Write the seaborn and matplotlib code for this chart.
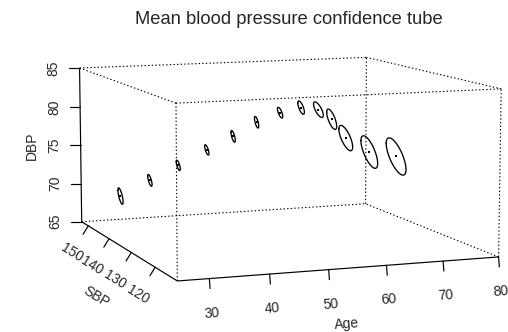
import numpy as np
import pandas as pd
import matplotlib
matplotlib.use("Agg")
import matplotlib.pyplot as plt
import seaborn as sns

# ---------------- data ----------------
ages = [20, 25, 30, 35, 40, 45, 50, 55, 60, 65, 70, 75, 80]
sbp_mean = [122.2, 122.4, 122.9, 123.2, 124.2, 126.1, 127.8, 130.2, 133.7, 138.4, 142.6, 143.3, 142.8]
dbp_mean = [73.2, 74.8, 76.3, 77.9, 79.2, 80.5, 81.3, 81.5, 80.7, 78.8, 75.7, 73.6, 72.9]
sbp_ci = [1.08, 0.88, 0.79, 0.82, 0.80, 0.77, 0.94, 1.15, 1.71, 1.76, 2.45, 2.92, 3.37]
dbp_ci = [0.85, 0.61, 0.54, 0.54, 0.63, 0.64, 0.58, 0.74, 0.85, 1.17, 1.46, 1.90, 2.18]
rho = 0.6

age_lim = (24.77, 80.0)
sbp_lim = (111.35, 153.33)
dbp_lim = (65.0, 85.0)
age_ticks = [30, 40, 50, 60, 70, 80]
sbp_ticks = [120, 130, 140, 150]
dbp_ticks = [65, 70, 75, 80, 85]
title = "Mean blood pressure confidence tube"

# ---------------- view (persp-like) ----------------
THETA, PHI = -20.6, 8.34
EXP_Y, EXP_Z = 1.014, 0.5015
DIST = 12.97
SCALE, CX, CY = 161.8, 280.7, 158.7


def proj(age, sbp, dbp):
    a = (np.asarray(age, float) - age_lim[0]) / (age_lim[1] - age_lim[0])
    s = (np.asarray(sbp, float) - sbp_lim[0]) / (sbp_lim[1] - sbp_lim[0])
    d = (np.asarray(dbp, float) - dbp_lim[0]) / (dbp_lim[1] - dbp_lim[0])
    X = 2 * a - 1
    Y = (2 * s - 1) * EXP_Y
    Z = (2 * d - 1) * EXP_Z
    x1, y1, z1 = X, Z, -Y
    t = np.radians(THETA)
    x2 = x1 * np.cos(t) - z1 * np.sin(t)
    z2 = x1 * np.sin(t) + z1 * np.cos(t)
    f = np.radians(PHI)
    y3 = y1 * np.cos(f) - z2 * np.sin(f)
    z3 = y1 * np.sin(f) + z2 * np.cos(f)
    w = (DIST - z3) / DIST
    return CX + SCALE * x2 / w, CY - SCALE * y3 / w


sns.set_style("white")
plt.rcParams["font.family"] = ["Liberation Sans", "DejaVu Sans"]
plt.rcParams["lines.scale_dashes"] = False

fig = plt.figure(figsize=(5.08, 3.32), dpi=100)
ax = fig.add_axes([0, 0, 1, 1])

A0, A1 = age_lim
S0, S1 = sbp_lim
D0, D1 = dbp_lim
corner = {
    "FBL": (A0, S0, D0), "FBR": (A1, S0, D0), "FTL": (A0, S0, D1), "FTR": (A1, S0, D1),
    "BBL": (A0, S1, D0), "BBR": (A1, S1, D0), "BTL": (A0, S1, D1), "BTR": (A1, S1, D1),
}
dotted = [("FBR", "FTR"), ("FBL", "FTL"), ("FTL", "FTR"), ("FBR", "BBR"), ("FTR", "BTR"),
          ("BBL", "BBR"), ("BTL", "BTR"), ("BBR", "BTR"), ("FTL", "BTL")]
solid = [("FBL", "FBR"), ("BBL", "FBL"), ("BBL", "BTL")]
dot_style = (0, (1.0, 1.6))
for p, q in dotted:
    xs, ys = proj(*zip(corner[p], corner[q]))
    ax.plot(xs, ys, color="black", lw=0.8, linestyle=dot_style)
for p, q in solid:
    xs, ys = proj(*zip(corner[p], corner[q]))
    ax.plot(xs, ys, color="black", lw=0.85, solid_capstyle="butt")

TXT = 10.0


def axis_decor(p_start, p_end, ticks, which, tick_len, lab_off, name, name_off, sign):
    x0, y0 = proj(*p_start)
    x1, y1 = proj(*p_end)
    ux, uy = x1 - x0, y1 - y0
    n = np.hypot(ux, uy)
    ux, uy = ux / n, uy / n
    nx, ny = sign * uy, -sign * ux
    if ny < 0 and abs(ny) > 0.3:
        nx, ny = -nx, -ny
    ang = np.degrees(np.arctan2(-uy, ux))
    if ang > 90:
        ang -= 180
    if ang < -90:
        ang += 180
    for tv in ticks:
        pt = list(p_start)
        pt[which] = tv
        px, py = proj(*pt)
        ax.plot([px, px + nx * tick_len], [py, py + ny * tick_len], color="black", lw=0.85)
        ax.text(px + nx * lab_off, py + ny * lab_off, str(tv), rotation=ang,
                rotation_mode="anchor", ha="center", va="center", fontsize=TXT)
    mid = list(p_start)
    mid[which] = (p_start[which] + p_end[which]) / 2
    mx, my = proj(*mid)
    ax.text(mx + nx * name_off, my + ny * name_off, name, rotation=ang,
            rotation_mode="anchor", ha="center", va="center", fontsize=TXT)


axis_decor(corner["FBL"], corner["FBR"], age_ticks, 0, 10, 34.5, "Age", 55.5, -1)
axis_decor(corner["BBL"], corner["FBL"], sbp_ticks, 1, 10, 32, "SBP", 56, 1)
for tv in dbp_ticks:
    px, py = proj(A0, S1, tv)
    ax.plot([px, px - 10.5], [py, py], color="black", lw=0.85)
    ax.text(px - 26, py, str(tv), rotation=90, rotation_mode="anchor",
            ha="center", va="center", fontsize=TXT)
mx, my = proj(A0, S1, (D0 + D1) / 2)
ax.text(mx - 48.5, my, "DBP", rotation=90, rotation_mode="anchor", ha="center",
        va="center", fontsize=TXT)

# ellipses (confidence tube cross-sections)
tt = np.linspace(0, 2 * np.pi, 120)
rows = []
for i, (ag, ms, md, cs, cd) in enumerate(zip(ages, sbp_mean, dbp_mean, sbp_ci, dbp_ci)):
    sb = ms + cs * np.cos(tt)
    db = md + cd * (rho * np.cos(tt) + np.sqrt(1 - rho ** 2) * np.sin(tt))
    px, py = proj(np.full_like(tt, ag), sb, db)
    rows.append(pd.DataFrame({"px": px, "py": py, "id": i, "k": np.arange(len(tt))}))
ell = pd.concat(rows, ignore_index=True)
sns.lineplot(data=ell, x="px", y="py", units="id", estimator=None, sort=False,
             color="black", lw=0.95, ax=ax, legend=False)
cx, cy = proj(ages, sbp_mean, dbp_mean)
cen = pd.DataFrame({"px": cx, "py": cy})
sns.scatterplot(data=cen, x="px", y="py", color="black", s=1.2, marker="s",
                linewidth=0, ax=ax, legend=False)
ax.set_xlim(0, 508)
ax.set_ylim(332, 0)
ax.axis("off")

fig.text(288.5 / 508, 1 - 20 / 332, title, ha="center", va="center", fontsize=13.2)
fig.savefig("out.png", dpi=100)
